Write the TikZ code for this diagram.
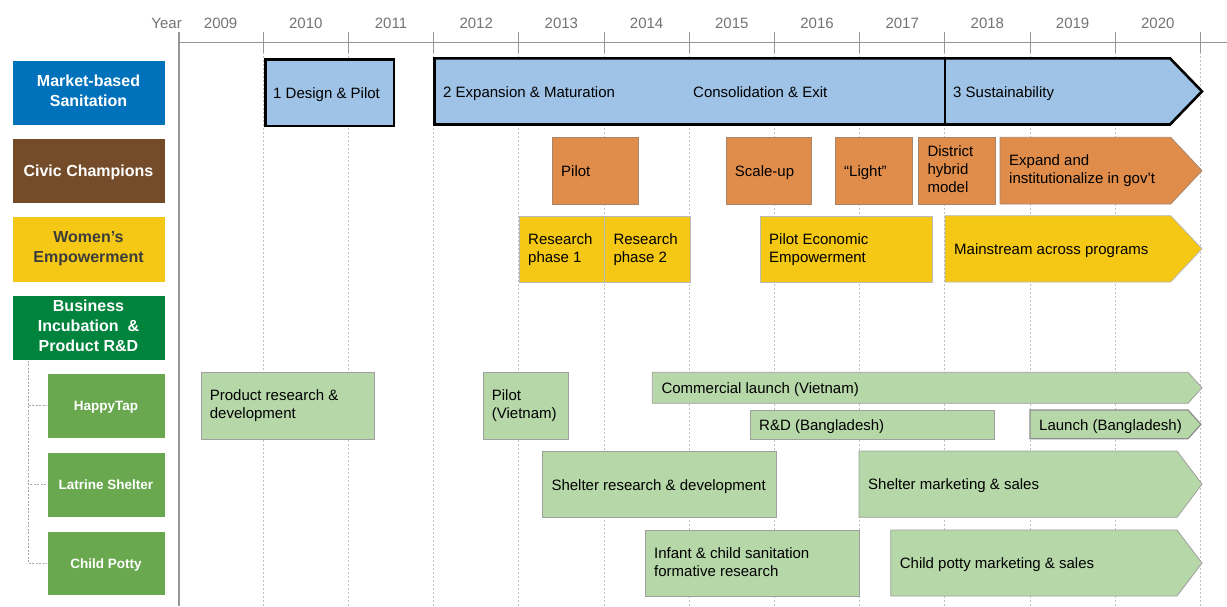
\documentclass[tikz,border=0pt]{standalone}
\usepackage{fontspec}
\setmainfont{Liberation Sans}
\definecolor{mbsblue}{RGB}{0,114,188}
\definecolor{ccbrown}{RGB}{116,76,41}
\definecolor{weyellow}{RGB}{244,200,20}
\definecolor{bigreen}{RGB}{0,132,61}
\definecolor{subgreen}{RGB}{106,168,79}
\definecolor{ltblue}{RGB}{159,195,230}
\definecolor{ccorange}{RGB}{224,141,76}
\definecolor{ltgreen}{RGB}{182,215,168}
\definecolor{axisgray}{RGB}{150,150,150}
\definecolor{yeargray}{RGB}{115,115,115}
\definecolor{darktext}{RGB}{60,60,60}
\newcommand{\txtstrut}{\rule[-3.3pt]{0pt}{18pt}}
\newcommand{\catstrut}{\rule[-4pt]{0pt}{19.5pt}}
\newcommand{\substrut}{\rule[-3.3pt]{0pt}{17pt}}
\tikzset{
  cat/.style={fill=#1, draw=white, line width=0.6pt, text=white, align=center, inner sep=0pt,
    font=\bfseries\fontsize{16}{20}\selectfont,
    execute at begin node=\catstrut, execute at end node=\catstrut},
  subcat/.style={fill=subgreen, draw=white, line width=0.6pt, text=white, align=center, inner sep=0pt,
    font=\bfseries\fontsize{13.5}{16}\selectfont,
    execute at begin node=\substrut, execute at end node=\substrut},
  txt/.style={font=\fontsize{15}{18}\selectfont, text=black, inner sep=0pt, align=left,
    execute at begin node=\txtstrut, execute at end node=\txtstrut},
  phase/.style={fill=ltblue, draw=black, line width=2.6pt, line join=miter},
  civic/.style={fill=ccorange, draw=gray!60!ccorange, line width=0.8pt},
  women/.style={fill=weyellow, draw=gray!55, line width=0.8pt},
  prod/.style={fill=ltgreen, draw=gray!75, line width=0.8pt},
  grid/.style={draw=gray!50, line width=0.7pt, dash pattern=on 2pt off 2pt},
  tree/.style={draw=gray!70, line width=0.8pt, dash pattern=on 2pt off 1.5pt},
  yearlbl/.style={text=yeargray, font=\fontsize{15}{18}\selectfont, inner sep=0pt},
}
% name, x1, y1, x2, y2, style, text
\newcommand{\tbox}[7]{%
  \pgfmathsetmacro\bw{#4-#2}\pgfmathsetmacro\bh{#5-#3}%
  \node[#6, anchor=north west, minimum width=\bw pt, minimum height=\bh pt, inner sep=0pt] (#1) at (#2,#3) {};
  \node[txt, anchor=west] (#1t) at ([xshift=9pt]#1.west) {#7};}
% name, x1, y1, xshoulder, xtip, y2, style, text
\newcommand{\chev}[8]{%
  \draw[#7] (#2,#3) -- (#4,#3) -- (#5,{(#3+#6)/2}) -- (#4,#6) -- (#2,#6) -- cycle;
  \node[txt, anchor=west] (#1) at ({#2+9},{(#3+#6)/2}) {#8};}
\begin{document}
\begin{tikzpicture}[x=1pt,y=-1pt]
\useasboundingbox (0,0) rectangle (1227,606);
% grid lines
\foreach \k in {1,...,12} {
  \draw[grid] ({178+85.2*\k},52) -- ({178+85.2*\k},606);
}
% axis
\draw[axisgray, line width=1.8pt] (178,42.5) -- (1227,42.5);
\foreach \k in {1,...,12} {
  \draw[axisgray, line width=1pt] ({178+85.2*\k},32) -- ({178+85.2*\k},53);
}
\draw[axisgray, line width=2.4pt] (179,32) -- (179,606);
\node[yearlbl, anchor=east] (yr) at (182,23) {Year};
\foreach \k in {0,...,11} {
  \pgfmathtruncatemacro\yy{2009+\k}
  \node[yearlbl] (y\k) at ({178+85.2*\k+42.6},23) {\yy};
}
% left categories
\node[cat=mbsblue, minimum width=153pt, minimum height=65pt] (mbs) at (88.5,92.5) {Market-based\\Sanitation};
\node[cat=ccbrown, minimum width=153pt, minimum height=65pt] (cc) at (88.5,170.5) {Civic Champions};
\node[cat=weyellow, text=darktext, minimum width=153pt, minimum height=66pt] (we) at (88.5,249) {Women's\\Empowerment};
\node[cat=bigreen, minimum width=153pt, minimum height=65pt] (bi) at (88.5,327.5) {Business\\Incubation\ \ \&\\Product R\&D};
\node[subcat, minimum width=118pt, minimum height=65pt] (ht) at (106,405.5) {HappyTap};
\node[subcat, minimum width=118pt, minimum height=65pt] (ls) at (106,484.5) {Latrine Shelter};
\node[subcat, minimum width=118pt, minimum height=64pt] (cp) at (106,563) {Child Potty};
\coordinate (trunk) at (28,360.5);
\draw[tree] (trunk) |- (ht.west);
\draw[tree] (trunk) |- (ls.west);
\draw[tree] (trunk) |- (cp.west);
% Market-based Sanitation row
\tbox{p1}{264}{58.3}{392.5}{124.5}{phase}{1 Design \& Pilot}
\draw[phase] (434.5,58.3) -- (1170,58.3) -- (1202,91.4) -- (1170,124.5) -- (434.5,124.5) -- cycle;
\draw[black, line width=2.6pt] (945,58.3) -- (945,124.5);
\node[txt, anchor=west] (p2) at (443,91.4) {2 Expansion \& Maturation};
\node[txt, anchor=west] (p2b) at (693,91.4) {Consolidation \& Exit};
\node[txt, anchor=west] (p3) at (953,91.4) {3 Sustainability};
% Civic Champions row
\tbox{c1}{552}{137.3}{637.5}{204}{civic}{Pilot}
\tbox{c2}{725.7}{137.3}{811}{204}{civic}{Scale-up}
\tbox{c3}{835}{137.3}{911.7}{204}{civic}{``Light''}
\tbox{c4}{918.3}{137.3}{995}{204}{civic}{District\\hybrid\\model}
\chev{c5}{1000}{137.3}{1170.7}{1202}{204}{civic}{Expand and\\institutionalize in gov't}
% Women's Empowerment row
\tbox{w1}{519}{215.7}{604.3}{282}{women}{Research\\phase 1}
\tbox{w2}{604.3}{215.7}{689.7}{282}{women}{Research\\phase 2}
\tbox{w3}{760}{215.7}{931.7}{282}{women}{Pilot Economic\\Empowerment}
\chev{w4}{945}{215.7}{1170.7}{1202}{282}{women}{Mainstream across programs}
% HappyTap row
\tbox{h1}{200.7}{372.3}{374}{438.7}{prod}{Product research \&\\development}
\tbox{h2}{482.7}{372.3}{567.7}{438.7}{prod}{Pilot\\(Vietnam)}
\chev{h3}{652.3}{372.3}{1188}{1202}{403.3}{prod}{Commercial launch (Vietnam)}
\tbox{h4}{750}{410}{994.3}{438.7}{prod}{R\&D (Bangladesh)}
\chev{h5}{1030}{410}{1188}{1201}{438.7}{prod, draw=gray!90, line width=1.2pt}{Launch (Bangladesh)}
% Latrine Shelter row
\tbox{s1}{542.3}{451}{776}{517.3}{prod}{Shelter research \& development}
\chev{s2}{859}{451}{1177}{1202}{517.3}{prod}{Shelter marketing \& sales}
% Child Potty row
\tbox{k1}{645}{530}{859}{596}{prod}{Infant \& child sanitation\\formative research}
\chev{k2}{890.7}{530}{1177}{1202}{596}{prod}{Child potty marketing \& sales}
\end{tikzpicture}
\end{document}
